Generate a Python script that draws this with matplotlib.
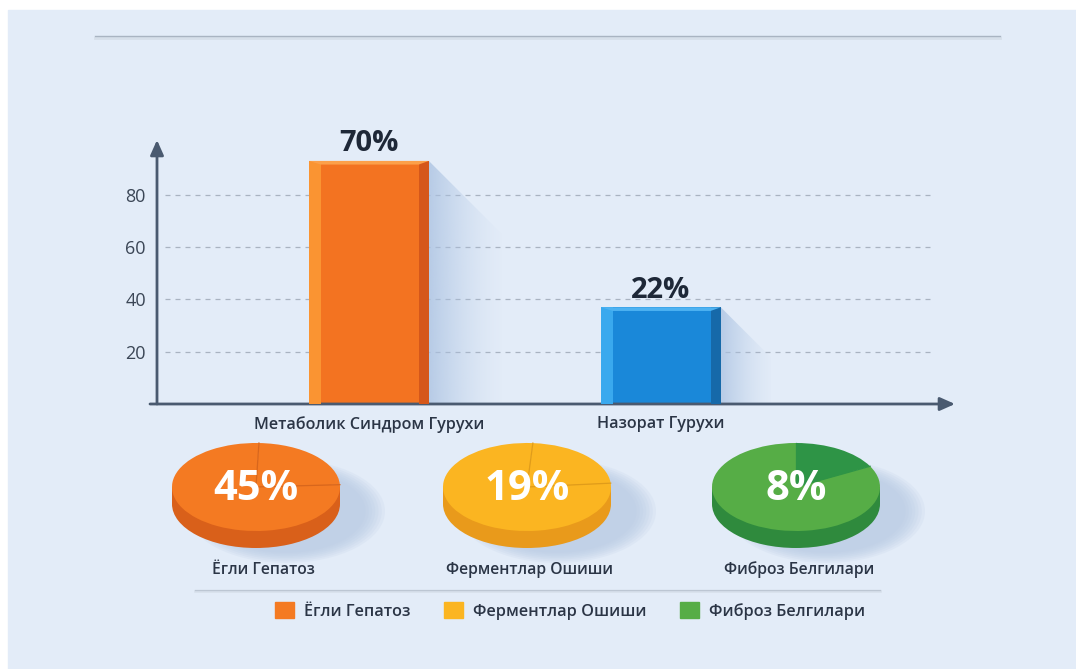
import numpy as np
import matplotlib
matplotlib.use('Agg')
import matplotlib.pyplot as plt
from matplotlib.patches import Rectangle, Polygon, Ellipse, Patch
from matplotlib.colors import to_rgb

plt.rcParams['font.family'] = ['Open Sans', 'DejaVu Sans']

# bar chart data (bar tops as drawn against the axis, labels as printed)
groups = ['Метаболик Синдром Гурухи', 'Назорат Гурухи']
bar_heights = [93, 37]
bar_labels = ['70%', '22%']
y_ticks = [20, 40, 60, 80]

# pie data
pie_names = ['Ёгли Гепатоз', 'Ферментлар Ошиши', 'Фиброз Белгилари']
pie_labels = ['45%', '19%', '8%']
slice_share = [0.236, 0.225, 0.172]
slice_start = [88, 86, 90]

W, H = 1076, 669
def fx(px):
    return px / W
def fy(py):
    return 1 - py / H

fig = plt.figure(figsize=(W / 100, H / 100), dpi=100)
fig.patch.set_facecolor('white')

# background panel + decorative lines
bg = fig.add_axes([0, 0, 1, 1])
bg.set_xlim(0, W)
bg.set_ylim(H, 0)
bg.axis('off')
bg.add_patch(Rectangle((8, 10), W, H, color='#e3ecf8', zorder=0))
bg.plot([95, 1000], [38, 38], color='#d6dfea', lw=2.0, zorder=1)
bg.plot([95, 1000], [36, 36], color='#a9b4c2', lw=1.0, zorder=2)
bg.plot([195, 880], [591, 591], color='#d6dfea', lw=1.8, zorder=1)
bg.plot([195, 880], [590, 590], color='#bcc6d3', lw=0.9, zorder=2)

# ---- bar chart ----
ax = fig.add_axes([fx(157), fy(404), (955 - 157) / W, (404 - 140) / H])
ax.patch.set_alpha(0)
for s in ax.spines.values():
    s.set_visible(False)

x = np.arange(len(groups))
w = 0.41
sl, sr = 0.04, 0.035
bar_cols = [('#f37321', '#fa9432', '#d5571a', '#fca04a'),
            ('#1a88d9', '#3aa9ee', '#1669a9', '#4eb3f2')]

ax.hlines(y_ticks, -0.70, 1.94, colors='#a9b3c1', linestyles=(0, (4, 4)),
          lw=0.9, zorder=1)

shadow_rgb = to_rgb('#a9c1e1')
for xi, h in zip(x, bar_heights):
    x1 = xi + w / 2
    dx = 0.12 + 0.0014 * h
    dy = dx * 111.7
    poly = Polygon([(x1, h), (x1 + dx, h - dy), (x1 + dx, 0), (x1, 0)],
                   closed=True, fc='none', ec='none')
    ax.add_patch(poly)
    grad = np.zeros((2, 100, 4))
    grad[..., :3] = shadow_rgb
    grad[..., 3] = 0.75 * np.linspace(1.0, 0.0, 100) ** 1.6
    im = ax.imshow(grad, extent=[x1, x1 + dx + 0.02, 0, h], aspect='auto',
                   zorder=1.5, interpolation='bilinear')
    im.set_clip_path(poly)

for i, (xi, h) in enumerate(zip(x, bar_heights)):
    main, light, dark, top = bar_cols[i]
    ax.bar(xi, h, width=w, color=main, zorder=3)
    ax.bar(xi - w / 2 + sl / 2, h, width=sl, color=light, zorder=4)
    ax.bar(xi + w / 2 - sr / 2, h, width=sr, color=dark, zorder=4)
    ax.fill([xi - w / 2, xi + w / 2, xi + w / 2 - sr, xi - w / 2 + sl],
            [h, h, h - 1.4, h - 1.4], color=top, zorder=5, lw=0)
    ax.annotate(bar_labels[i], (xi, h), xytext=(0, 2), textcoords='offset points',
                ha='center', va='bottom', fontsize=21, fontweight='bold',
                color='#1e2838')

axis_col = '#4a5a70'
ax.annotate('', xy=(0, 1), xytext=(0, 0), xycoords='axes fraction',
            arrowprops=dict(arrowstyle='-|>,head_length=0.9,head_width=0.4',
                            color=axis_col, lw=2, shrinkA=0, shrinkB=0))
ax.annotate('', xy=(1, 0), xytext=(-7 / 798, 0), xycoords='axes fraction',
            arrowprops=dict(arrowstyle='-|>,head_length=0.9,head_width=0.4',
                            color=axis_col, lw=2, shrinkA=0, shrinkB=0))

ax.set_yticks(y_ticks)
ax.set_xticks(x, groups)
ax.tick_params(axis='y', length=0, pad=8, labelsize=13, labelcolor='#3b4656')
ax.tick_params(axis='x', length=0, pad=9, labelsize=11.6, labelcolor='#2b3546')
for lab in ax.get_xticklabels():
    lab.set_fontweight('semibold')
ax.set_xlim(-0.726, 2.007)
ax.set_ylim(0, 101)

# ---- pseudo 3D pies ----
pie_cx = [256, 527, 796]
pie_label_x = [263, 530, 799]
cy, rx, ry = 487, 84, 44
depth = 17 / ry
pie_cols = [  # top, side, slice, line
    ('#f47a22', '#d9601a', '#f47a22', '#d8661c'),
    ('#fbb521', '#e99a1b', '#fbb521', '#e09c1a'),
    ('#56ad46', '#2f8a3d', '#2e9446', '#2e9446'),
]

for i in range(len(pie_names)):
    top, side, slc, line = pie_cols[i]
    cx = pie_cx[i]
    pax = fig.add_axes([fx(cx - 2 * rx), fy(cy + 2 * ry), 4 * rx / W, 4 * ry / H])
    pax.patch.set_alpha(0)

    for k, s in enumerate(np.linspace(1.12, 0.9, 7)):
        pax.add_patch(Ellipse((0.36, -0.55), 2.1 * s, 2.1 * s, color='#b4c8e3',
                              alpha=0.15, lw=0, zorder=0))

    pax.pie([1], colors=[side], center=(0, -depth), radius=1,
            wedgeprops=dict(lw=0))
    pax.add_patch(Rectangle((-1, -depth), 2, depth, color=side, lw=0, zorder=1))
    share = slice_share[i]
    pax.pie([share, 1 - share], colors=[slc, top], startangle=slice_start[i],
            counterclock=False, radius=1, wedgeprops=dict(lw=0))
    for ang in [slice_start[i], slice_start[i] - share * 360]:
        t = np.deg2rad(ang)
        pax.plot([0, np.cos(t)], [0, np.sin(t)], color=line, lw=0.9, zorder=5)
    pax.text(0, -0.05, pie_labels[i], ha='center', va='center', color='white',
             fontsize=30, fontweight='bold', zorder=6)
    pax.set_xlim(-2, 2)
    pax.set_ylim(-2, 2)
    pax.set_aspect('auto')
    pax.axis('off')

    fig.text(fx(pie_label_x[i]), fy(570), pie_names[i], ha='center', va='center',
             fontsize=11.3, fontweight='semibold', color='#2b3546')

handles = [Patch(color=c[0]) for c in pie_cols]
leg = fig.legend(handles, pie_names, loc='center', bbox_to_anchor=(fx(570), fy(611)),
                 ncol=3, frameon=False, fontsize=11.7, handlelength=1.15,
                 handleheight=1.15, handletextpad=0.6, columnspacing=2.1,
                 labelcolor='#2b3546')
for t in leg.get_texts():
    t.set_fontweight('semibold')

fig.savefig('out.png', dpi=100)
